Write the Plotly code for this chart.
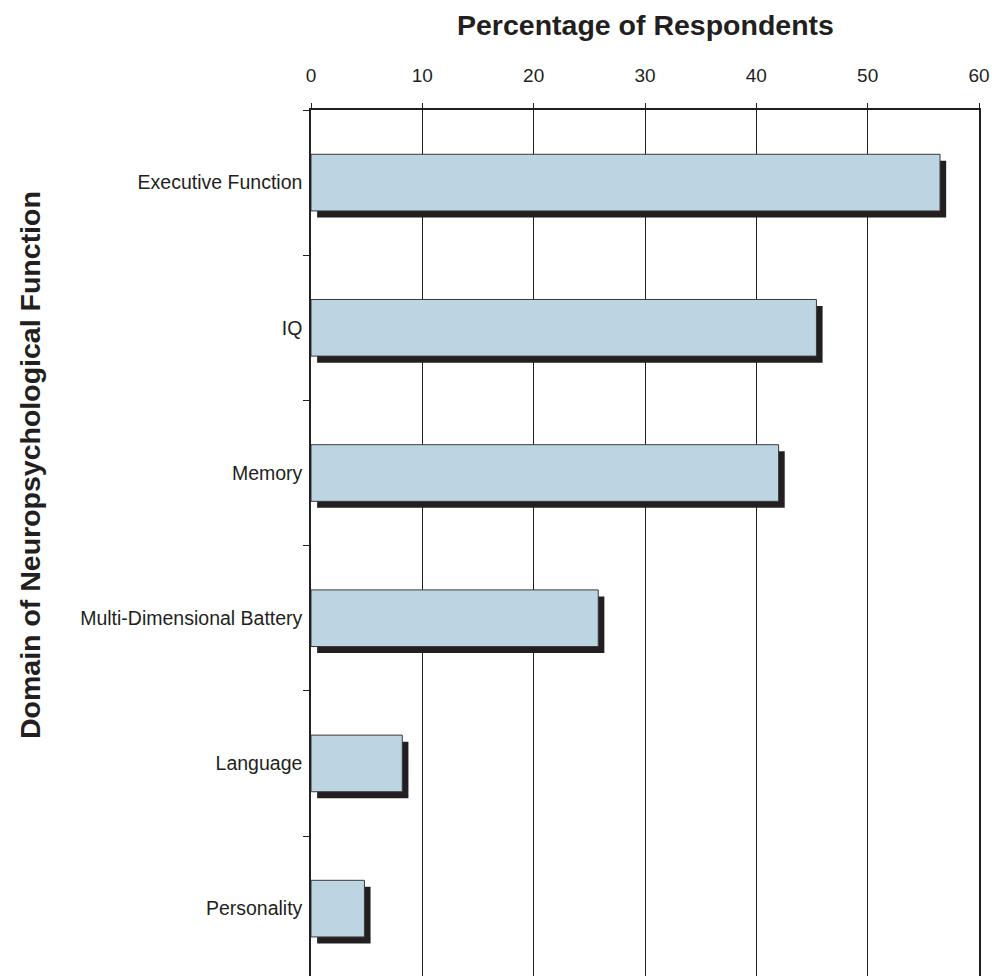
import plotly.graph_objects as go

categories = ["Executive Function", "IQ", "Memory", "Multi-Dimensional Battery", "Language", "Personality"]
values = [56.5, 45.4, 42.0, 25.8, 8.2, 4.8]
x_ticks = [0, 10, 20, 30, 40, 50, 60]

bar_w = 0.39
shadow_dx = 0.55
shadow_dy = 0.045

fig = go.Figure()
fig.add_trace(go.Bar(
    y=categories, x=values, base=[shadow_dx] * len(values), orientation="h",
    width=bar_w, offset=-bar_w / 2 + shadow_dy,
    marker=dict(color="#231F20", line=dict(width=0)),
    hoverinfo="skip", showlegend=False,
))
fig.add_trace(go.Bar(
    y=categories, x=values, orientation="h",
    width=bar_w, offset=-bar_w / 2,
    marker=dict(color="#BDD5E2", line=dict(color="#3a3a3a", width=1)),
    showlegend=False,
))

fig.update_layout(
    width=992, height=976,
    margin=dict(l=311, r=13, t=110, b=0),
    paper_bgcolor="white", plot_bgcolor="white",
    barmode="overlay",
    font=dict(family="Liberation Sans, Arial, sans-serif", color="#231F20"),
    xaxis=dict(
        side="top", range=[0, 60], tickvals=x_ticks,
        showgrid=True, gridcolor="#231F20", gridwidth=1,
        showline=True, linecolor="#231F20", linewidth=1.5,
        ticks="outside", ticklen=5, tickcolor="#231F20",
        ticklabelstandoff=14,
        tickfont=dict(size=19, color="#231F20"),
        zeroline=False,
    ),
    yaxis=dict(
        type="category", categoryorder="array", categoryarray=categories,
        range=[5.464, -0.5],
        showgrid=False, zeroline=False,
        showline=True, linecolor="#231F20", linewidth=1.5, mirror=True,
        ticks="outside", tickson="boundaries", ticklen=6, tickcolor="#231F20",
        tickfont=dict(size=19.5, color="#231F20"),
        ticklabelstandoff=3,
    ),
    annotations=[
        dict(text="<b>Percentage of Respondents</b>", x=645, y=976 - 25,
             xref="paper", yref="paper", showarrow=False,
             font=dict(size=28.5, color="#231F20")),
        dict(text="<b>Domain of Neuropsychological Function</b>", x=30, y=976 - 465,
             xref="paper", yref="paper", showarrow=False, textangle=-90,
             font=dict(size=28.5, color="#231F20")),
    ],
)

# convert pixel positions of titles to paper coords
pw = 992 - 311 - 13
ph = 976 - 110
for a in fig.layout.annotations:
    a.x = (a.x - 311) / pw
    a.y = a.y / ph
    a.xanchor = "center"
    a.yanchor = "middle"

fig.write_html("out.html")
